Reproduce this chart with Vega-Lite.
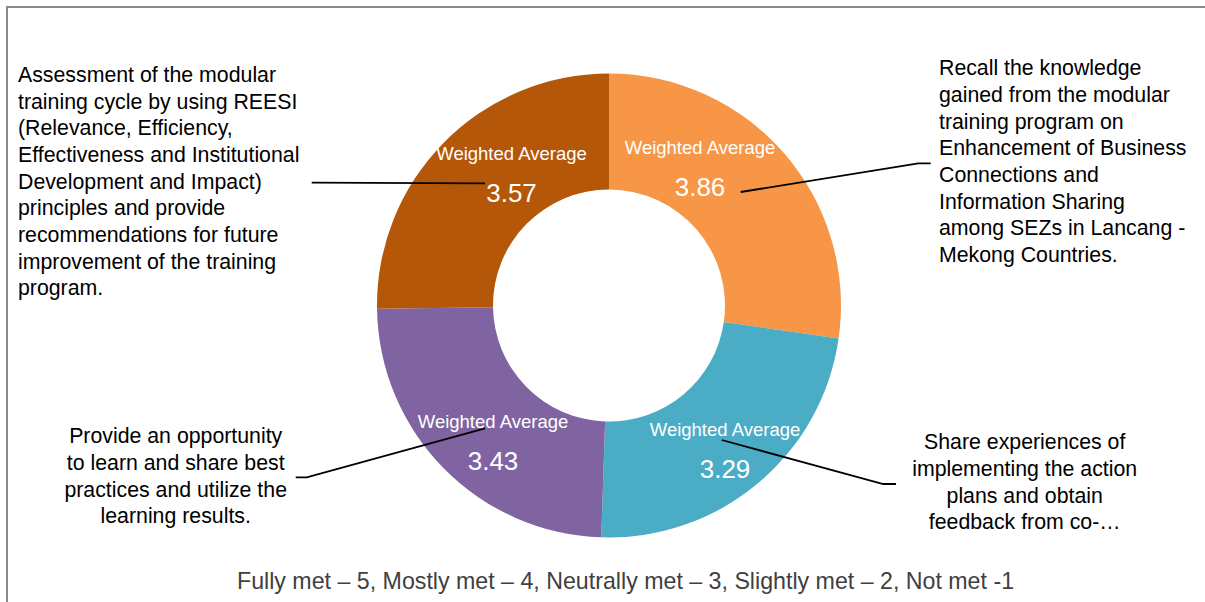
{
  "$schema": "https://vega.github.io/schema/vega-lite/v6.json",
  "width": 1204,
  "height": 597,
  "autosize": {"type": "none"},
  "padding": {"left": 7, "top": 7, "right": 0, "bottom": 0},
  "background": "white",
  "config": {
    "view": {"stroke": "#8a8a8a", "strokeWidth": 2},
    "font": "Liberation Sans",
    "text": {"font": "Liberation Sans"}
  },
  "datasets": {
    "segments": [
      {"seq": 1, "topic": "Recall knowledge", "value": 3.86},
      {"seq": 2, "topic": "Share experiences", "value": 3.29},
      {"seq": 3, "topic": "Provide opportunity", "value": 3.43},
      {"seq": 4, "topic": "Assessment REESI", "value": 3.57}
    ],
    "labels": [
      {"topic": "Recall knowledge", "value": 3.86, "x": 91, "y": 137.5},
      {"topic": "Share experiences", "value": 3.29, "x": 116, "y": -144.5},
      {"topic": "Provide opportunity", "value": 3.43, "x": -116, "y": -136.2},
      {"topic": "Assessment REESI", "value": 3.57, "x": -97.5, "y": 131.5}
    ],
    "leaders": [
      {"topic": "Recall knowledge", "pt": 1, "x": 131.7, "y": 113.5},
      {"topic": "Recall knowledge", "pt": 2, "x": 309.3, "y": 142.2},
      {"topic": "Recall knowledge", "pt": 3, "x": 321.7, "y": 142.2},
      {"topic": "Assessment REESI", "pt": 1, "x": -297.3, "y": 122.8},
      {"topic": "Assessment REESI", "pt": 2, "x": -124, "y": 122.2},
      {"topic": "Provide opportunity", "pt": 1, "x": -124, "y": -122.8},
      {"topic": "Provide opportunity", "pt": 2, "x": -302.3, "y": -171.8},
      {"topic": "Provide opportunity", "pt": 3, "x": -313.3, "y": -171.8},
      {"topic": "Share experiences", "pt": 1, "x": 112.7, "y": -134.5},
      {"topic": "Share experiences", "pt": 2, "x": 274.3, "y": -178.5},
      {"topic": "Share experiences", "pt": 3, "x": 287, "y": -178.5}
    ],
    "notes": [
      {"topic": "Recall knowledge", "x": 330, "y": 236.2, "text": "Recall the knowledge\ngained from the modular\ntraining program on\nEnhancement of Business\nConnections and\nInformation Sharing\namong SEZs in Lancang -\nMekong Countries."},
      {"topic": "Assessment REESI", "x": -591, "y": 229.5, "text": "Assessment of the modular\ntraining cycle by using REESI\n(Relevance, Efficiency,\nEffectiveness and Institutional\nDevelopment and Impact)\nprinciples and provide\nrecommendations for future\nimprovement of the training\nprogram."},
      {"topic": "Provide opportunity", "x": -433.3, "y": -131.8, "text": "Provide an opportunity\nto learn and share best\npractices and utilize the\nlearning results."},
      {"topic": "Share experiences", "x": 415.7, "y": -137.8, "text": "Share experiences of\nimplementing the action\nplans and obtain\nfeedback from co-…"}
    ],
    "caption": [
      {"x": 16.5, "y": -276.5, "text": "Fully met – 5, Mostly met – 4, Neutrally met – 3, Slightly met – 2, Not met -1"}
    ]
  },
  "layer": [
    {
      "data": {"name": "segments"},
      "mark": {"type": "arc", "outerRadius": 232, "innerRadius": 116},
      "encoding": {
        "theta": {"field": "value", "type": "quantitative", "stack": true},
        "order": {"field": "seq", "type": "quantitative"},
        "color": {
          "field": "topic",
          "type": "nominal",
          "scale": {
            "domain": ["Recall knowledge", "Share experiences", "Provide opportunity", "Assessment REESI"],
            "range": ["#F79646", "#4BACC6", "#8064A2", "#B55708"]
          },
          "legend": null
        }
      }
    },
    {
      "data": {"name": "labels"},
      "mark": {"type": "text", "color": "white", "fontSize": 18.5, "align": "center", "baseline": "middle", "dy": -20},
      "encoding": {
        "x": {"field": "x", "type": "quantitative", "scale": {"domain": [-602, 602], "nice": false, "zero": false}, "axis": null},
        "y": {"field": "y", "type": "quantitative", "scale": {"domain": [-298.5, 298.5], "nice": false, "zero": false}, "axis": null},
        "text": {"value": "Weighted Average"}
      }
    },
    {
      "data": {"name": "labels"},
      "mark": {"type": "text", "color": "white", "fontSize": 26, "align": "center", "baseline": "middle", "dy": 20},
      "encoding": {
        "x": {"field": "x", "type": "quantitative", "axis": null},
        "y": {"field": "y", "type": "quantitative", "axis": null},
        "text": {"field": "value", "type": "quantitative", "format": ".2f"}
      }
    },
    {
      "data": {"name": "leaders"},
      "mark": {"type": "line", "color": "black", "strokeWidth": 1.8},
      "encoding": {
        "x": {"field": "x", "type": "quantitative", "axis": null},
        "y": {"field": "y", "type": "quantitative", "axis": null},
        "detail": {"field": "topic", "type": "nominal"},
        "order": {"field": "pt", "type": "quantitative"}
      }
    },
    {
      "data": {"name": "notes"},
      "transform": [{"filter": {"field": "topic", "oneOf": ["Recall knowledge", "Assessment REESI"]}}],
      "mark": {"type": "text", "color": "black", "fontSize": 21.3, "lineHeight": 26.67, "align": "left", "baseline": "middle", "lineBreak": "\n"},
      "encoding": {
        "x": {"field": "x", "type": "quantitative", "axis": null},
        "y": {"field": "y", "type": "quantitative", "axis": null},
        "text": {"field": "text", "type": "nominal"}
      }
    },
    {
      "data": {"name": "notes"},
      "transform": [{"filter": {"field": "topic", "oneOf": ["Provide opportunity", "Share experiences"]}}],
      "mark": {"type": "text", "color": "black", "fontSize": 21.3, "lineHeight": 26.67, "align": "center", "baseline": "middle", "lineBreak": "\n"},
      "encoding": {
        "x": {"field": "x", "type": "quantitative", "axis": null},
        "y": {"field": "y", "type": "quantitative", "axis": null},
        "text": {"field": "text", "type": "nominal"}
      }
    },
    {
      "data": {"name": "caption"},
      "mark": {"type": "text", "color": "#404040", "fontSize": 23.2, "align": "center", "baseline": "middle"},
      "encoding": {
        "x": {"field": "x", "type": "quantitative", "axis": null},
        "y": {"field": "y", "type": "quantitative", "axis": null},
        "text": {"field": "text", "type": "nominal"}
      }
    }
  ]
}
